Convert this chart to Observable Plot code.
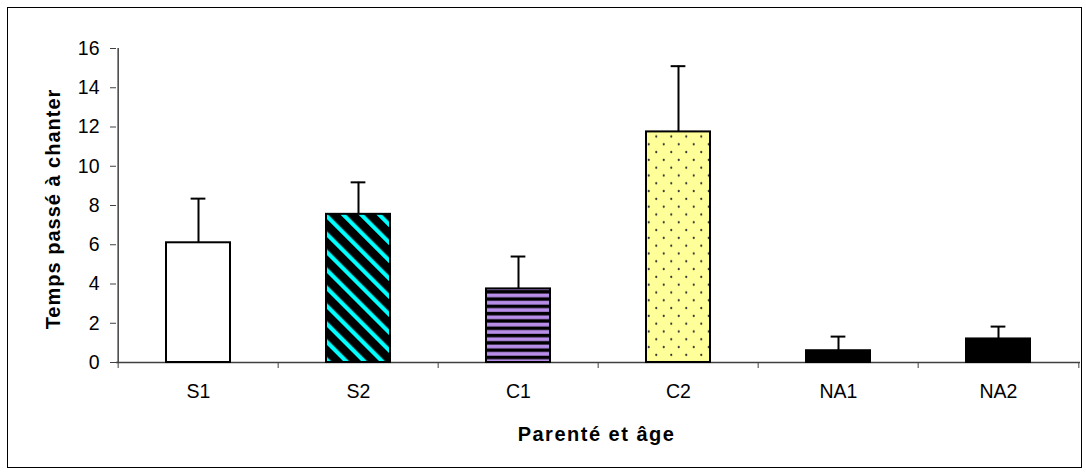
<!DOCTYPE html>
<html><head><meta charset="utf-8">
<script src="https://cdn.jsdelivr.net/npm/d3@7"></script>
<script src="https://cdn.jsdelivr.net/npm/@observablehq/plot@0.6"></script>
<style>
html,body{margin:0;padding:0;background:#fff;}
#wrap{position:relative;width:1086px;height:475px;overflow:hidden;}
#wrap svg{position:absolute;left:0;top:0;}
#border{position:absolute;left:7px;top:7px;width:1073px;height:459px;border:1.5px solid #000;pointer-events:none;}
</style></head><body><div id="wrap"><div id="border"></div></div>
<script>
// ---- data ----
const categories = ["S1", "S2", "C1", "C2", "NA1", "NA2"];
const means = [6.1, 7.55, 3.75, 11.75, 0.6, 1.2];
const errors = [2.25, 1.63, 1.65, 3.35, 0.72, 0.63];
const yTicks = [0, 2, 4, 6, 8, 10, 12, 14, 16];
const xLabel = "Parenté et âge";
const yLabel = "Temps passé à chanter";

// ---- styles / layout ----
const fills = {S1: "white", S2: "url(#p-s2)", C1: "url(#p-c1)", C2: "url(#p-c2)", NA1: "black", NA2: "black"};
const W = 1086, H = 475;
const mL = 116, mR = 6, mT = 48, mB = 113;
const step = (W - mL - mR) / categories.length;
const bandwidth = step * 0.4;
const capWidth = 15;
const capInset = (bandwidth - capWidth) / 2;
const axisColor = "#404040";
const tickFont = "19.5px";

const data = categories.map((c, i) => ({cat: c, mean: means[i], top: means[i] + errors[i]}));

const chart = Plot.plot({
  width: W, height: H,
  marginLeft: mL, marginRight: mR, marginTop: mT, marginBottom: mB,
  style: {fontFamily: "'Liberation Sans', Arial, sans-serif", fontSize: "19.5px", color: "black", background: "white", overflow: "visible"},
  x: {domain: categories, paddingInner: 0.6, paddingOuter: 0.3, axis: null},
  y: {domain: [0, 16], axis: null},
  color: {type: "identity"},
  marks: [
    Plot.axisY({ticks: yTicks, tickSize: 6, tickPadding: 11, stroke: axisColor, fill: "black", label: null, ariaLabel: "yticks"}),
    Plot.axisX({tickSize: 0, tickPadding: 22, fill: "black", label: null, ariaLabel: "xticks"}),
    Plot.axisX({text: null, tickSize: 6, dx: -step / 2, stroke: axisColor, label: null}),
    Plot.axisX({ticks: [categories[categories.length - 1]], text: null, tickSize: 6, dx: step / 2, stroke: axisColor, label: null}),
    Plot.ruleY([0], {stroke: axisColor, strokeWidth: 1.5}),
    Plot.ruleX([categories[0]], {x: d => d, y1: 0, y2: 16, dx: -step / 2, stroke: axisColor, strokeWidth: 1.5}),
    Plot.barY(data, {x: "cat", y: "mean", fill: d => fills[d.cat], stroke: "black", strokeWidth: 2}),
    Plot.ruleX(data, {x: "cat", y1: "mean", y2: "top", stroke: "black", strokeWidth: 2}),
    Plot.tickY(data, {x: "cat", y: "top", insetLeft: capInset, insetRight: capInset, stroke: "black", strokeWidth: 2}),
    Plot.text([yLabel], {frameAnchor: "left", text: d => d, rotate: -90, dx: -63, dy: 3.5, textAnchor: "middle", lineAnchor: "middle", fontWeight: "bold", fontSize: 20, fill: "black"}),
    Plot.text([xLabel], {frameAnchor: "bottom", text: d => d, dx: -2, dy: 72.5, textAnchor: "middle", lineAnchor: "middle", fontWeight: "bold", fontSize: 20, fill: "black"})
  ]
});

const defs = document.createElementNS("http://www.w3.org/2000/svg", "defs");
defs.innerHTML = `
<pattern id="p-s2" patternUnits="userSpaceOnUse" width="12.7" height="12.7" patternTransform="rotate(-45)">
  <rect width="12.7" height="12.7" fill="black"/>
  <rect x="0" y="0" width="4.2" height="12.7" fill="#00ffff"/>
</pattern>
<pattern id="p-c1" patternUnits="userSpaceOnUse" width="10" height="7.3">
  <rect width="10" height="7.3" fill="black"/>
  <rect x="0" y="1.5" width="10" height="3.8" fill="#b88ee8"/>
</pattern>
<pattern id="p-c2" patternUnits="userSpaceOnUse" width="15" height="15.6">
  <rect width="15" height="15.6" fill="#ffff99"/>
  <circle cx="3.75" cy="3.9" r="1.1" fill="#333"/>
  <circle cx="11.25" cy="11.7" r="1.1" fill="#333"/>
</pattern>`;
chart.insertBefore(defs, chart.firstChild);

const sel = d3.select(chart);
sel.selectAll("text").each(function () {
  const t = this.textContent;
  if (t === xLabel) d3.select(this).style("letter-spacing", "1.5px");
  else if (t === yLabel) d3.select(this).style("letter-spacing", "1px");
  else d3.select(this).style("font-size", tickFont);
});
sel.selectAll("g").each(function () {
  const g = this;
  if (g.getAttribute("aria-label") === "yticks" || g.getAttribute("aria-label") === "xticks") g.style.fontSize = tickFont;
});

const wrap = document.getElementById("wrap");
wrap.insertBefore(chart, wrap.firstChild);
</script>
</body></html>
